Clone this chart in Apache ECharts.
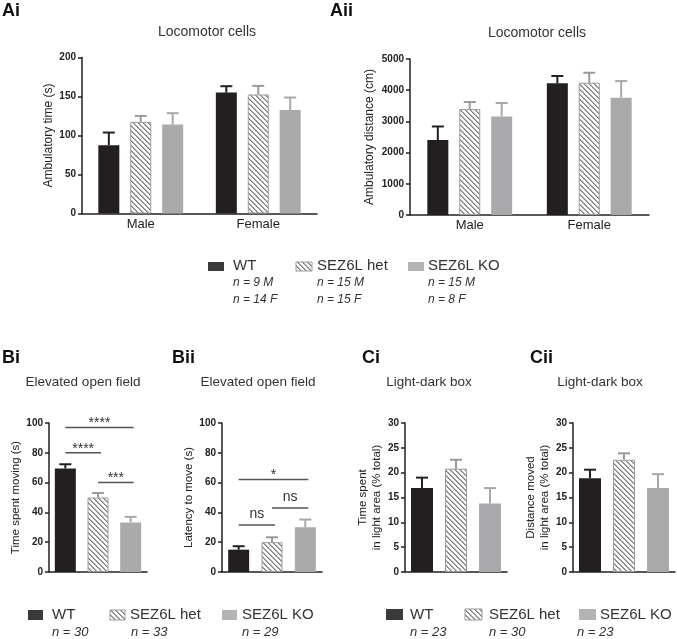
<!DOCTYPE html>
<html><head><meta charset="utf-8">
<script src="https://cdn.jsdelivr.net/npm/echarts@6/dist/echarts.min.js"></script>
<style>html,body{margin:0;padding:0;background:#fff}#c{width:677px;height:639px}</style>
</head><body><div id="c"></div>
<script>
// ---------- data ----------
const groups = ['WT', 'SEZ6L het', 'SEZ6L KO'];
const sexes = ['Male', 'Female'];
// Ai: ambulatory time (s) [Male, Female]
const aiWT = [87.6, 155.0],  aiWTsem = [16.2, 8.2];
const aiHet = [117.4, 152.6], aiHetSem = [7.7, 11.0];
const aiKO = [114.0, 132.8],  aiKOsem = [14.6, 15.9];
// Aii: ambulatory distance (cm) [Male, Female]
const aiiWT = [2400, 4220],  aiiWTsem = [437, 235];
const aiiHet = [3395, 4240], aiiHetSem = [225, 320];
const aiiKO = [3160, 3760],  aiiKOsem = [430, 533];
// Bi: time spent moving (s) [WT, het, KO]
const biMean = [69.5, 50.0, 33.3], biSem = [2.8, 3.0, 3.7];
// Bii: latency to move (s)
const biiMean = [15.0, 20.0, 30.0], biiSem = [2.3, 3.3, 5.2];
// Ci: time spent in light area (% total)
const ciMean = [16.9, 20.8, 13.8], ciSem = [2.1, 1.8, 3.1];
// Cii: distance moved in light area (% total)
const ciiMean = [18.9, 22.6, 16.9], ciiSem = [1.7, 1.3, 2.8];
// significance brackets: [from group, to group, y value, label]
const biSig = [[0, 2, 97, '****'], [0, 1, 80, '****'], [1, 2, 60, '***']];
const biiSig = [[0, 2, 62, '*'], [0, 1, 31.5, 'ns'], [1, 2, 43, 'ns']];
// legend n labels
const nA = [['n = 9 M', 'n = 14 F'], ['n = 15 M', 'n = 15 F'], ['n = 15 M', 'n = 8 F']];
const nB = ['n = 30', 'n = 33', 'n = 29'];
const nC = ['n = 23', 'n = 30', 'n = 23'];

// ---------- styles ----------
const FONT = '"Liberation Sans", Arial, Helvetica, sans-serif';
const TXT = '#222';
const wtColor = '#231f20', koColor = '#aaaaac', hetLine = '#9a9a9a';
const errColors = [wtColor, '#9a9a9a', '#a8a8aa'];

function stripeCanvas() {
  const n = 5, c = document.createElement('canvas');
  c.width = n; c.height = n;
  const ctx = c.getContext('2d'), img = ctx.createImageData(n, n);
  for (let y = 0; y < n; y++) for (let x = 0; x < n; x++) {
    const d = ((x - y) % n + n) % n;
    const v = d === 0 ? 125 : (d === 1 ? 170 : 255);
    const i = (y * n + x) * 4;
    img.data[i] = v; img.data[i + 1] = v; img.data[i + 2] = v; img.data[i + 3] = 255;
  }
  ctx.putImageData(img, 0, 0);
  return c;
}
const stripe = stripeCanvas();
const barStyles = [
  { color: wtColor },
  { color: { image: stripe, repeat: 'repeat' }, borderColor: hetLine, borderWidth: 1 },
  { color: koColor }
];

// ---------- layout ----------
const grids = [
  { left: 82, top: 57.5, width: 235, height: 156 },   // Ai
  { left: 410, top: 59, width: 239, height: 156 },    // Aii
  { left: 49, top: 423, width: 98, height: 149 },     // Bi
  { left: 222, top: 423, width: 100, height: 149 },   // Bii
  { left: 405, top: 423, width: 102, height: 149 },   // Ci
  { left: 573, top: 423, width: 102, height: 149 }    // Cii
];

function yAx(gi, max, interval, name, nameGap, nameSize) {
  return {
    gridIndex: gi, type: 'value', min: 0, max: max, interval: interval,
    name: name, nameLocation: 'middle', nameGap: nameGap,
    nameTextStyle: { fontSize: nameSize, color: TXT, fontFamily: FONT, lineHeight: 14 },
    axisLine: { show: true, lineStyle: { color: TXT, width: 1.5 } },
    axisTick: { show: true, length: 4, lineStyle: { color: TXT, width: 1.5 } },
    axisLabel: { fontSize: 10, fontWeight: 'bold', color: TXT, margin: 6, fontFamily: FONT,
      formatter: function (v) { return String(v); } },
    splitLine: { show: false }
  };
}
function xAxA(gi) {
  return {
    gridIndex: gi, type: 'category', data: sexes,
    axisLine: { lineStyle: { color: TXT, width: 1.5 } },
    axisTick: { alignWithLabel: true, length: 3, lineStyle: { color: TXT, width: 1.5 } },
    axisLabel: { fontSize: 13, color: TXT, margin: 4, fontFamily: FONT }
  };
}
function xAxB(gi) {
  return {
    gridIndex: gi, type: 'category', data: groups,
    axisLine: { lineStyle: { color: TXT, width: 1.5 } },
    axisTick: { show: false }, axisLabel: { show: false }
  };
}

const BW_A = 21, GAP_A = 0.52;
function errSeries(gi, rows, spacing) {
  return {
    type: 'custom', xAxisIndex: gi, yAxisIndex: gi, z: 5, silent: true,
    data: rows,
    renderItem: function (params, api) {
      const cat = api.value(0), mean = api.value(1), top = api.value(2), g = api.value(3);
      const p0 = api.coord([cat, mean]), p1 = api.coord([cat, top]);
      const x = p0[0] + (spacing ? (g - 1) * spacing : 0);
      const col = errColors[g];
      const st = { stroke: col, lineWidth: 2 };
      return {
        type: 'group', children: [
          { type: 'line', shape: { x1: x, y1: p0[1], x2: x, y2: p1[1] }, style: st },
          { type: 'line', shape: { x1: x - 6, y1: p1[1], x2: x + 6, y2: p1[1] }, style: st }
        ]
      };
    }
  };
}
function sigSeries(gi, sig) {
  return {
    type: 'custom', xAxisIndex: gi, yAxisIndex: gi, z: 6, silent: true,
    data: sig.map(s => [s[0], s[1], s[2]]),
    renderItem: function (params, api) {
      const a = api.coord([api.value(0), api.value(2)]);
      const b = api.coord([api.value(1), api.value(2)]);
      const lab = sig[params.dataIndex][3];
      const isAst = lab.indexOf('*') >= 0;
      return {
        type: 'group', children: [
          { type: 'line', shape: { x1: a[0], y1: a[1], x2: b[0] + 3, y2: b[1] }, style: { stroke: '#555', lineWidth: 1.5 } },
          { type: 'text', style: { text: lab, x: (a[0] + b[0] + 3) / 2, y: a[1] + (isAst ? 3 : -4),
            align: 'center', verticalAlign: 'bottom', fontSize: 14, fontFamily: FONT, fill: '#333' } }
        ]
      };
    }
  };
}

function groupedRows(means, sems) {
  const rows = [];
  means.forEach((m, g) => m.forEach((v, c) => rows.push([c, v, v + sems[g][c], g])));
  return rows;
}
function simpleRows(mean, sem) {
  return mean.map((v, i) => [i, v, v + sem[i], i]);
}
function barA(gi, data, g) {
  return { type: 'bar', xAxisIndex: gi, yAxisIndex: gi, data: data, barWidth: BW_A, barGap: (GAP_A * 100) + '%',
    itemStyle: barStyles[g], silent: true };
}
function barB(gi, data, bw) {
  return { type: 'bar', xAxisIndex: gi, yAxisIndex: gi, barWidth: bw, silent: true,
    data: data.map((v, i) => ({ value: v, itemStyle: barStyles[i] })) };
}

const series = [
  barA(0, aiWT, 0), barA(0, aiHet, 1), barA(0, aiKO, 2),
  barA(1, aiiWT, 0), barA(1, aiiHet, 1), barA(1, aiiKO, 2),
  barB(2, biMean, 21), barB(3, biiMean, 21), barB(4, ciMean, 22), barB(5, ciiMean, 22),
  errSeries(0, groupedRows([aiWT, aiHet, aiKO], [aiWTsem, aiHetSem, aiKOsem]), BW_A * (1 + GAP_A)),
  errSeries(1, groupedRows([aiiWT, aiiHet, aiiKO], [aiiWTsem, aiiHetSem, aiiKOsem]), BW_A * (1 + GAP_A)),
  errSeries(2, simpleRows(biMean, biSem), 0),
  errSeries(3, simpleRows(biiMean, biiSem), 0),
  errSeries(4, simpleRows(ciMean, ciSem), 0),
  errSeries(5, simpleRows(ciiMean, ciiSem), 0),
  sigSeries(2, biSig), sigSeries(3, biiSig)
];

// ---------- text & legends ----------
function txt(text, x, y, size, opts) {
  opts = opts || {};
  return { type: 'text', silent: true, style: Object.assign({
    text: text, x: x, y: y, fontSize: size, fontFamily: FONT, fill: TXT,
    align: 'left', verticalAlign: 'middle' }, opts) };
}
function swatch(g, x, y, w, h) {
  const st = g === 0 ? { fill: '#3a3a3a' } : g === 1 ? { fill: { image: stripe, repeat: 'repeat' }, stroke: hetLine, lineWidth: 1 } : { fill: '#b4b4b6' };
  return { type: 'rect', silent: true, shape: { x: x, y: y, width: w, height: h }, style: st };
}
const graphics = [];
// panel letters
[['Ai', 2, 11], ['Aii', 330, 11], ['Bi', 2, 358], ['Bii', 172, 358], ['Ci', 362, 358], ['Cii', 530, 358]]
  .forEach(p => graphics.push(txt(p[0], p[1], p[2], 18, { fontWeight: 'bold', fill: '#111' })));
// panel titles
[['Locomotor cells', 207, 32, 14], ['Locomotor cells', 537, 33, 14],
 ['Elevated open field', 83, 382, 13.5], ['Elevated open field', 258, 382, 13.5],
 ['Light-dark box', 429, 382, 13.5], ['Light-dark box', 600, 382, 13.5]]
  .forEach(t => graphics.push(txt(t[0], t[1], t[2], t[3], { align: 'center', fill: '#333' })));
// legend A
const legA = [[208, 233], [296, 317], [408, 428]];
groups.forEach((g, i) => {
  graphics.push(swatch(i, legA[i][0], 262, 16, 9));
  graphics.push(txt(g, legA[i][1], 266, 15, { fill: '#333' }));
  graphics.push(txt(nA[i][0], legA[i][1], 283, 12, { fontStyle: 'italic', fill: '#333' }));
  graphics.push(txt(nA[i][1], legA[i][1], 300, 12, { fontStyle: 'italic', fill: '#333' }));
});
// legend B
const legB = [[28, 52, 52], [110, 130, 131], [222, 242, 242]];
groups.forEach((g, i) => {
  graphics.push(swatch(i, legB[i][0], 610, 15, 10));
  graphics.push(txt(g, legB[i][1], 615, 15, { fill: '#333' }));
  graphics.push(txt(nB[i], legB[i][2], 632, 13, { fontStyle: 'italic', fill: '#333' }));
});
// legend C
const legC = [[386, 410, 410], [465, 489, 489], [579, 600, 577]];
groups.forEach((g, i) => {
  graphics.push(swatch(i, legC[i][0], 609, 17, 11));
  graphics.push(txt(g, legC[i][1], 615, 15, { fill: '#333' }));
  graphics.push(txt(nC[i], legC[i][2], 632, 13, { fontStyle: 'italic', fill: '#333' }));
});

const chart = echarts.init(document.getElementById('c'), null, { renderer: 'canvas' });
chart.setOption({
  backgroundColor: '#fff',
  animation: false,
  textStyle: { fontFamily: FONT },
  grid: grids,
  xAxis: [xAxA(0), xAxA(1), xAxB(2), xAxB(3), xAxB(4), xAxB(5)],
  yAxis: [
    yAx(0, 200, 50, 'Ambulatory time (s)', 26, 12),
    yAx(1, 5000, 1000, 'Ambulatory distance (cm)', 33, 12),
    yAx(2, 100, 20, 'Time spent moving (s)', 20, 11.5),
    yAx(3, 100, 20, 'Latency to move (s)', 26, 11.5),
    yAx(4, 30, 5, 'Time spent\nin light area (% total)', 18, 11.5),
    yAx(5, 30, 5, 'Distance moved\nin light area (% total)', 17, 11.5)
  ],
  series: series,
  graphic: graphics
});
</script>
</body></html>
